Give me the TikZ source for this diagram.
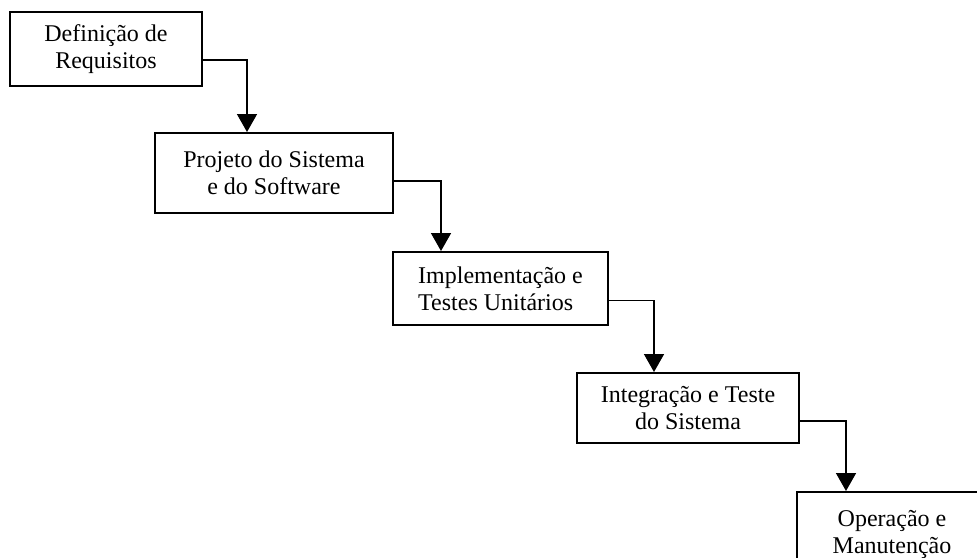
\documentclass[tikz,border=0pt]{standalone}
\usepackage{fontspec}
\setmainfont{Liberation Serif}
\usetikzlibrary{arrows.meta}
\begin{document}
\begin{tikzpicture}[x=1pt,y=-1pt,
  stagebox/.style={draw,line width=2pt,inner sep=0pt,align=center,
    font=\fontsize{24}{27}\selectfont},
  flow/.style={line width=1.6pt,-{Triangle[width=20pt,length=18pt]}}]
\useasboundingbox (0,0) rectangle (977,557);
\begin{scope}
\clip (0,0) rectangle (977,557);
\node[stagebox,minimum width=192pt,minimum height=74pt] (b1) at (106,49) {Definição de\\Requisitos};
\node[stagebox,minimum width=238pt,minimum height=80pt] (b2) at (274,173) {Projeto do Sistema\\e do Software};
\node[stagebox,align=left,minimum width=215pt,minimum height=73pt] (b3) at (500.5,288.5) {Implementação e\\Testes Unitários};
\node[stagebox,minimum width=222pt,minimum height=70pt] (b4) at (688,408) {Integração e Teste\\do Sistema};
\node[stagebox,minimum width=190pt,minimum height=84pt] (b5) at (892,534) {Operação e\\Manutenção};
\coordinate (s1) at ([yshift=-11pt]b1.east);
\coordinate (s2) at ([yshift=-8pt]b2.east);
\coordinate (s3) at ([yshift=-12pt]b3.east);
\coordinate (s4) at ([yshift=-13pt]b4.east);
\draw[flow] (s1) -| ([xshift=93pt]b2.north west);
\draw[flow] (s2) -| ([xshift=49pt]b3.north west);
\draw[flow] (s3) -| ([xshift=78pt]b4.north west);
\draw[flow] (s4) -| ([xshift=50pt]b5.north west);
\end{scope}
\end{tikzpicture}
\end{document}
